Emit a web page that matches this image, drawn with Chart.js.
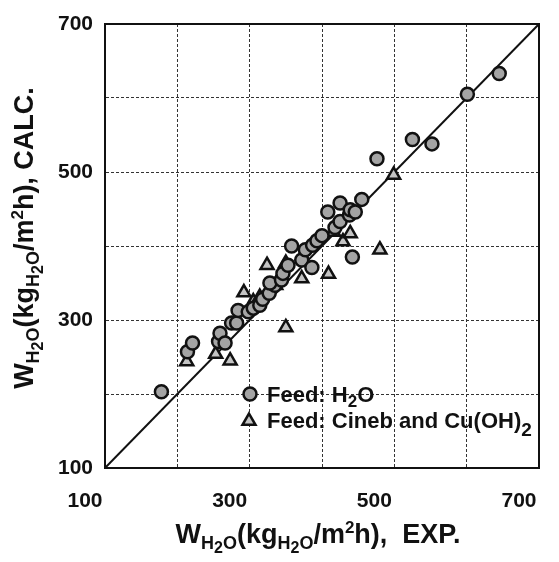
<!DOCTYPE html>
<html><head><meta charset="utf-8">
<script src="https://cdn.jsdelivr.net/npm/chart.js@4.4.1/dist/chart.umd.min.js"></script>
<style>html,body{margin:0;padding:0;background:#fff;overflow:hidden}</style>
</head><body>
<canvas id="c" width="559" height="562"></canvas>
<script>
// ---- data ----
const axisMin = 100, axisMax = 700, gridStep = 100;
const tickLabels = [100, 300, 500, 700];
const seriesNames = ['Feed: H\u2082O', 'Feed: Cineb and Cu(OH)\u2082'];
const h2oX = [178,214,221,257,259,266,275,282,284,298,305,314,318,327,335,328,344,346,353,358,372,377,386,387,393,400,408,418,425,425,438,439,446,455,442,476,525,552,601,645];
const h2oY = [203,257,269,271,282,269,296,296,313,311,316,320,328,336,347,350,354,363,374,400,381,395,371,401,407,414,446,425,433,458,442,449,446,463,385,518,544,538,605,633];
const cinebX = [213,253,273,292,305,314,324,336,343,350,350,372,409,416,429,439,480,499];
const cinebY = [244,254,245,337,325,331,374,347,360,377,290,356,362,419,406,417,395,496];
const parityX = [100, 700];
const parityY = [100, 700];

// title segments: [text, fontSize, baselineShift]
const xTitle = [['W',27,0],['H',18,6],['2',16,10],['O',18,6],['(kg',27,0],['H',18,6],['2',16,10],['O',18,6],['/m',27,0],['2',17,-10],['h),  EXP.',27,0]];
const yTitle = [['W',27,0],['H',18,6],['2',16,10],['O',18,6],['(kg',27,0],['H',18,6],['2',16,10],['O',18,6],['/m',27,0],['2',17,-10],['h), CALC.',27,0]];
const legendSegs = [
  [['Feed: H',22,0],['2',17,5],['O',22,0]],
  [['Feed: Cineb and Cu(OH)',22,0],['2',19,8]]
];

const FAM = '"Liberation Sans", Arial, sans-serif';
const toPts = (xs, ys) => xs.map((x, i) => ({x, y: ys[i]}));

const circleStyle = {pointStyle:'circle', radius:6.5, bg:'#a4a4a4', border:'#111', bw:2.5};
const triStyle = {pointStyle:'triangle', radius:7.5, bg:'#c4c4c4', border:'#111', bw:2.5};

function drawRich(ctx, segs, x, y, center) {
  let w = 0;
  segs.forEach(s => { ctx.font = 'bold ' + s[1] + 'px ' + FAM; w += ctx.measureText(s[0]).width; });
  let cx = center ? x - w / 2 : x;
  ctx.textBaseline = 'alphabetic';
  ctx.textAlign = 'left';
  segs.forEach(s => {
    ctx.font = 'bold ' + s[1] + 'px ' + FAM;
    ctx.fillText(s[0], cx, y + s[2]);
    cx += ctx.measureText(s[0]).width;
  });
}

function marker(ctx, st, x, y) {
  ctx.save();
  ctx.fillStyle = st.bg; ctx.strokeStyle = st.border; ctx.lineWidth = st.bw;
  Chart.helpers.drawPoint(ctx, {pointStyle: st.pointStyle, radius: st.radius, rotation: 0, borderWidth: st.bw}, x, y);
  ctx.restore();
}

const decor = {
  id: 'decor',
  beforeDatasetsDraw(chart) {
    const {ctx, chartArea: a} = chart;
    ctx.save();
    ctx.strokeStyle = '#111'; ctx.lineWidth = 2;
    ctx.strokeRect(a.left, a.top, a.right - a.left, a.bottom - a.top);
    ctx.restore();
  },
  afterDraw(chart) {
    const ctx = chart.ctx;
    ctx.save();
    ctx.fillStyle = '#111';
    drawRich(ctx, xTitle, 318, 543, true);
    ctx.save();
    ctx.translate(33, 238);
    ctx.rotate(-Math.PI / 2);
    drawRich(ctx, yTitle, 0, 0, true);
    ctx.restore();
    // legend
    marker(ctx, circleStyle, 250, 394);
    marker(ctx, triStyle, 249, 421);
    ctx.fillStyle = '#111';
    drawRich(ctx, legendSegs[0], 267, 402, false);
    drawRich(ctx, legendSegs[1], 267, 428, false);
    ctx.restore();
  }
};

const tickFont = {family: FAM, size: 21, weight: 'bold'};
const lab = v => tickLabels.includes(v) ? String(v) : '';
const noPad = s => { s.paddingLeft = 0; s.paddingRight = 0; s.paddingTop = 0; s.paddingBottom = 0; };

new Chart(document.getElementById('c'), {
  type: 'scatter',
  data: {
    datasets: [
      {label: seriesNames[0], data: toPts(h2oX, h2oY), pointStyle: circleStyle.pointStyle, pointRadius: circleStyle.radius,
       backgroundColor: circleStyle.bg, borderColor: circleStyle.border, borderWidth: circleStyle.bw, pointHoverRadius: circleStyle.radius},
      {label: seriesNames[1], data: toPts(cinebX, cinebY), pointStyle: triStyle.pointStyle, pointRadius: triStyle.radius,
       backgroundColor: triStyle.bg, borderColor: triStyle.border, borderWidth: triStyle.bw, pointHoverRadius: triStyle.radius},
      {label: 'y = x', type: 'line', data: toPts(parityX, parityY), showLine: true, borderColor: '#111', borderWidth: 2,
       pointRadius: 0, fill: false, tension: 0}
    ]
  },
  options: {
    responsive: false, animation: false, devicePixelRatio: 1,
    layout: {padding: {left: 0, right: 20, top: 24, bottom: 0}},
    plugins: {legend: {display: false}, tooltip: {enabled: false}},
    scales: {
      x: {type: 'linear', min: axisMin, max: axisMax,
          afterFit(s) { s.height = 94; noPad(s); },
          ticks: {stepSize: gridStep, autoSkip: false, maxRotation: 0, padding: 21, labelOffset: -20, font: tickFont, color: '#111', callback: lab},
          grid: {color: '#333', lineWidth: 1, drawTicks: false},
          border: {display: true, color: '#111', width: 2, dash: [3, 2]}},
      y: {type: 'linear', min: axisMin, max: axisMax,
          afterFit(s) { s.width = 105; noPad(s); },
          ticks: {stepSize: gridStep, autoSkip: false, padding: 12, font: tickFont, color: '#111', callback: lab},
          grid: {color: '#333', lineWidth: 1, drawTicks: false},
          border: {display: true, color: '#111', width: 2, dash: [3, 2]}}
    }
  },
  plugins: [decor]
});
</script>
</body></html>
